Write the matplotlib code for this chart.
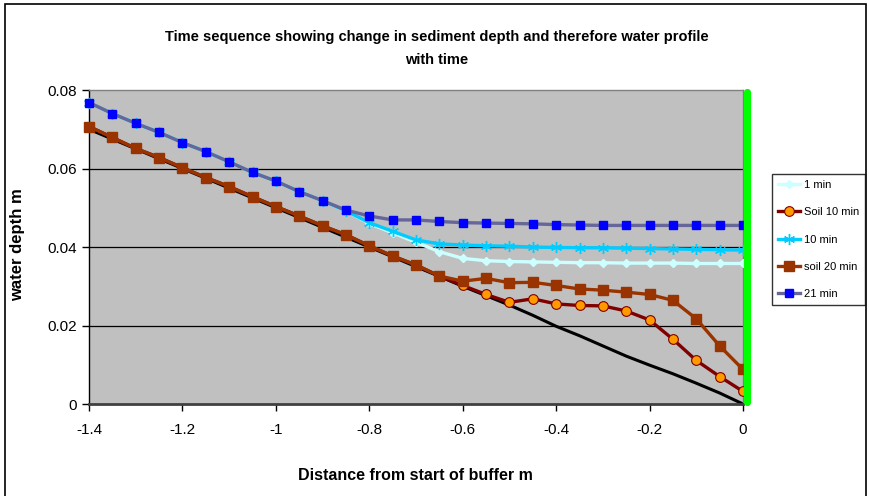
import matplotlib
matplotlib.use("Agg")
import matplotlib.pyplot as plt
from matplotlib.patches import Rectangle

# ---- data ----
x_vals = [-1.4, -1.35, -1.3, -1.25, -1.2, -1.15, -1.1, -1.05, -1.0, -0.95,
          -0.9, -0.85, -0.8, -0.75, -0.7, -0.65, -0.6, -0.55, -0.5, -0.45,
          -0.4, -0.35, -0.3, -0.25, -0.2, -0.15, -0.1, -0.05, 0.0]

min21 = [0.0768, 0.0740, 0.0715, 0.0692, 0.0666, 0.0643, 0.0617, 0.0590, 0.0568, 0.0541,
         0.0518, 0.0494, 0.0479, 0.0469, 0.0469, 0.0465, 0.0462, 0.0461, 0.0460, 0.0459,
         0.0457, 0.0456, 0.0455, 0.0455, 0.0455, 0.0455, 0.0455, 0.0455, 0.0455]

min10 = [0.0768, 0.0740, 0.0715, 0.0692, 0.0666, 0.0643, 0.0617, 0.0590, 0.0568, 0.0541,
         0.0518, 0.0492, 0.0462, 0.0440, 0.0418, 0.0408, 0.0405, 0.0403, 0.0402, 0.0400,
         0.0399, 0.0398, 0.0398, 0.0397, 0.0396, 0.0395, 0.0394, 0.0393, 0.0392]

min1 = [0.0768, 0.0740, 0.0715, 0.0692, 0.0666, 0.0643, 0.0617, 0.0590, 0.0568, 0.0541,
        0.0518, 0.0492, 0.0460, 0.0436, 0.0412, 0.0388, 0.0371, 0.0365, 0.0363, 0.0362,
        0.0361, 0.0360, 0.0360, 0.0359, 0.0359, 0.0359, 0.0358, 0.0358, 0.0358]

soil20 = [0.0707, 0.0679, 0.0651, 0.0628, 0.0602, 0.0577, 0.0554, 0.0528, 0.0503, 0.0479,
          0.0454, 0.0431, 0.0403, 0.0377, 0.0354, 0.0326, 0.0313, 0.0320, 0.0309, 0.0310,
          0.0302, 0.0293, 0.0290, 0.0285, 0.0279, 0.0264, 0.0217, 0.0148, 0.0088]

soil10 = [0.0707, 0.0679, 0.0651, 0.0628, 0.0602, 0.0577, 0.0554, 0.0528, 0.0503, 0.0479,
          0.0454, 0.0431, 0.0403, 0.0377, 0.0354, 0.0326, 0.0302, 0.0279, 0.0259, 0.0268,
          0.0255, 0.0251, 0.0250, 0.0237, 0.0214, 0.0165, 0.0111, 0.0070, 0.0032]

bed_x = [-1.4, -0.6, -0.55, -0.5, -0.45, -0.4, -0.35, -0.3, -0.25, -0.2, -0.15, -0.1, -0.05, 0.0]
bed_y = [0.0700, 0.0300, 0.0276, 0.0252, 0.0226, 0.0198, 0.0174, 0.0148, 0.0122, 0.0099,
         0.0077, 0.0053, 0.0028, 0.0]

x_ticks = [-1.4, -1.2, -1.0, -0.8, -0.6, -0.4, -0.2, 0.0]
x_tick_labels = ["-1.4", "-1.2", "-1", "-0.8", "-0.6", "-0.4", "-0.2", "0"]
y_ticks = [0, 0.02, 0.04, 0.06, 0.08]
y_tick_labels = ["0", "0.02", "0.04", "0.06", "0.08"]

FONT = ["Liberation Sans Narrow", "Liberation Sans", "DejaVu Sans"]
plt.rcParams["font.family"] = FONT

fig = plt.figure(figsize=(8.69, 4.96), dpi=100)
fig.patch.set_facecolor("white")
ax = fig.add_axes([89 / 869, 1 - 404 / 496, (743 - 89) / 869, (404 - 90) / 496])
ax.set_facecolor("#C0C0C0")

ax.set_xlim(-1.4, 0)
ax.set_ylim(0, 0.08)

for yv in y_ticks[1:-1]:
    ax.axhline(yv, color="black", lw=0.9, zorder=1)

ax.plot(bed_x, bed_y, color="black", lw=2.2, zorder=2, clip_on=False)

ax.plot(x_vals, min1, color="#CCFFFF", lw=2.4, marker="D", ms=4.5,
        mfc="#CCFFFF", mec="#CCFFFF", label="1 min", zorder=3, clip_on=False)
ax.plot(x_vals, soil10, color="#800000", lw=2.4, marker="o", ms=7,
        mfc="#FF9900", mec="#800000", mew=0.8, label="Soil 10 min", zorder=4, clip_on=False)
ax.plot(x_vals, min10, color="#00CCFF", lw=2.4, marker=(6, 2, 0), ms=8,
        mfc="#00CCFF", mec="#00CCFF", mew=1.0, label="10 min", zorder=5, clip_on=False)
ax.plot(x_vals, soil20, color="#993300", lw=2.4, marker="s", ms=7,
        mfc="#993300", mec="#993300", label="soil 20 min", zorder=6, clip_on=False)
ax.plot(x_vals, min21, color="#666699", lw=2.4, marker="s", ms=6,
        mfc="#0000FF", mec="#0000FF", label="21 min", zorder=7, clip_on=False)

# green boundary line at x = 0
ax.plot([0.008, 0.008], [0.0005, 0.0795], color="#00FF00", lw=5.2,
        solid_capstyle="round", zorder=8, clip_on=False)

ax.set_xticks(x_ticks)
ax.set_xticklabels(x_tick_labels)
ax.set_yticks(y_ticks)
ax.set_yticklabels(y_tick_labels)
ax.tick_params(axis="both", direction="out", length=5, width=1, color="black",
               labelsize=11, pad=4)
ax.tick_params(axis="x", pad=9)

for side in ["top", "right"]:
    ax.spines[side].set_color("#808080")
    ax.spines[side].set_linewidth(1)
ax.spines["left"].set_color("black")
ax.spines["left"].set_linewidth(1)
ax.spines["bottom"].set_color("#404040")
ax.spines["bottom"].set_linewidth(2)

ax.set_xlabel("Distance from start of buffer m", fontsize=11.5, fontweight="bold", labelpad=10)
ax.set_ylabel("water depth m", fontsize=12, fontweight="bold", labelpad=10)
ax.xaxis.set_label_coords((415 - 89) / 654, -(468 - 404) / 314)
ax.yaxis.set_label_coords(-(89 - 25) / 654, (404 - 245) / 314)

fig.text(437 / 869, 1 - 37 / 496, "Time sequence showing change in sediment depth and therefore water profile",
         ha="center", va="center", fontsize=10.5, fontweight="bold")
fig.text(437 / 869, 1 - 60 / 496, "with time",
         ha="center", va="center", fontsize=10.5, fontweight="bold")

leg = fig.legend(loc="upper left", bbox_to_anchor=(772 / 869, 1 - 174 / 496),
                 frameon=True, fontsize=8, handlelength=2.0, handletextpad=0.3,
                 labelspacing=1.55, borderpad=0.55, borderaxespad=0,
                 fancybox=False)
leg.get_frame().set_edgecolor("black")
leg.get_frame().set_linewidth(1)

# chart outer border
fig.patches.append(Rectangle((5 / 869, -0.05), (866 - 5) / 869, 1.05 - 4 / 496,
                             transform=fig.transFigure, fill=False,
                             edgecolor="black", lw=1.2))

fig.savefig("out.png", dpi=100)
